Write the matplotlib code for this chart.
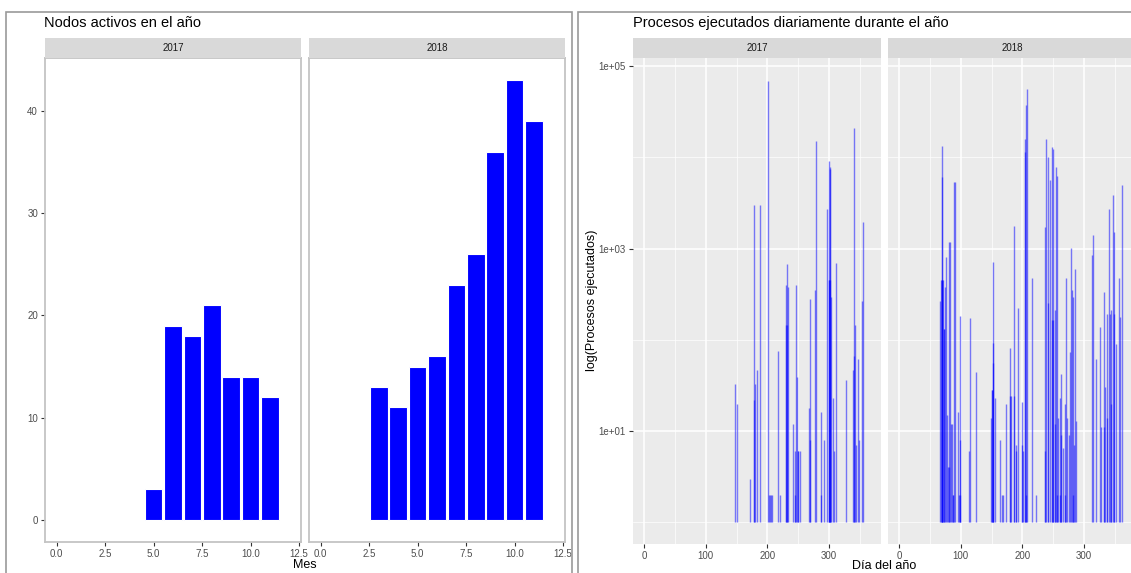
import matplotlib
matplotlib.use("Agg")
import matplotlib.pyplot as plt
from matplotlib.patches import Rectangle
from matplotlib.ticker import FixedLocator, FuncFormatter, NullFormatter

plt.rcParams['font.family'] = ['Liberation Sans', 'DejaVu Sans']

# nodos activos por mes
meses_2017 = [5, 6, 7, 8, 9, 10, 11]
nodos_2017 = [3, 19, 18, 21, 14, 14, 12]
meses_2018 = [3, 4, 5, 6, 7, 8, 9, 10, 11]
nodos_2018 = [13, 11, 15, 16, 23, 26, 36, 43, 39]

# procesos ejecutados por dia (varias entradas por dia se superponen)
dias_2017 = [148, 150, 171, 178, 178, 179, 183, 188, 201, 202, 204, 205, 208,
             217, 220, 230, 230, 231, 232, 234, 242, 244, 244, 247, 248, 249,
             250, 252, 267, 269, 269, 277, 279, 286, 286, 292, 297, 299, 300,
             300, 301, 301, 302, 303, 306, 308, 311, 327, 338, 340, 340, 342,
             343, 346, 348, 353, 355]
procesos_2017 = [33, 20, 3, 3000, 22, 33, 47, 3000, 69000, 2, 2, 2, 2,
                 76, 2, 400, 145, 145, 680, 380, 12, 2, 6, 400, 39, 6,
                 6, 6, 18, 280, 8, 350, 15000, 16, 2, 8, 2700, 450, 9100,
                 450, 7900, 450, 7500, 295, 23, 6, 690, 36, 47, 21000, 67, 147,
                 7, 62, 8, 264, 1940]

dias_2018 = [67, 68, 69, 69, 70, 70, 71, 72, 73, 75, 76, 77, 80, 81, 81, 83,
             84, 85, 87, 88, 89, 91, 96, 97, 98, 99, 99, 114, 115, 124, 149,
             150, 151, 152, 152, 153, 156, 163, 166, 169, 174, 179, 180, 181,
             186, 187, 189, 190, 193, 199, 199, 201, 204, 204, 205, 206, 207,
             216, 222, 237, 237, 238, 242, 242, 244, 248, 248, 250, 250, 252,
             252, 255, 256, 256, 258, 260, 260, 263, 263, 266, 269, 269, 270,
             272, 276, 277, 279, 281, 282, 282, 284, 285, 287, 313, 314, 319,
             326, 328, 332, 332, 334, 337, 337, 341, 342, 344, 344, 347, 349,
             349, 352, 356, 358, 361]
procesos_2018 = [264, 450, 13400, 450, 6100, 450, 450, 132, 132, 380, 800, 15,
                 4, 4, 1170, 1170, 12, 12, 2, 2, 5300, 5300, 16, 2, 2, 180, 8,
                 6, 173, 44, 14, 28, 28, 720, 55, 92, 23, 8, 2, 2, 20, 82, 24,
                 24, 24, 1770, 6, 7, 224, 21, 7, 6, 16000, 11500, 2, 37500,
                 56000, 470, 2, 1730, 6, 16000, 10000, 250, 5650, 12900, 164,
                 12300, 164, 210, 12, 7740, 6300, 2, 14, 23, 2, 42, 9, 6.5, 20,
                 2, 480, 14, 9, 73, 1020, 350, 295, 2, 7, 600, 13, 850, 1400,
                 61, 138, 11, 330, 11, 30, 190, 14, 2700, 190, 210, 20, 3900,
                 1500, 190, 91, 480, 178, 5000]

W, H = 1131, 573
fig = plt.figure(figsize=(W / 100, H / 100), dpi=100)


def caja(x0, y0, x1, y1):
    return [x0 / W, 1 - y1 / H, (x1 - x0) / W, (y1 - y0) / H]


def tira(x0, x1, texto):
    s = fig.add_axes(caja(x0, 38, x1, 58))
    s.set_facecolor('#D9D9D9')
    s.set_xticks([])
    s.set_yticks([])
    for sp in s.spines.values():
        sp.set_visible(False)
    s.text(0.5, 0.5, texto, ha='center', va='center', fontsize=7,
           color='#1A1A1A', transform=s.transAxes)


# marcos de cada grafico
for x0, x1 in [(6, 572), (578, 1140)]:
    fig.patches.append(Rectangle((x0 / W, 1 - 580 / H), (x1 - x0) / W,
                                 (580 - 12) / H, transform=fig.transFigure,
                                 fill=False, edgecolor='#9A9A9A', lw=1.2))

# ---- Nodos activos en el año ----
paneles_izq = [(45, 301, '2017', meses_2017, nodos_2017),
               (309, 565, '2018', meses_2018, nodos_2018)]
for i, (x0, x1, anio, meses, nodos) in enumerate(paneles_izq):
    ax = fig.add_axes(caja(x0, 58, x1, 542))
    ax.bar(meses, nodos, width=0.9, color='#0000FF', edgecolor='white', lw=0.8)
    ax.set_xlim(-0.6, 12.6)
    ax.set_ylim(-2.15, 45.15)
    ax.set_xticks([0, 2.5, 5, 7.5, 10, 12.5])
    ax.set_xticklabels(['0.0', '2.5', '5.0', '7.5', '10.0', '12.5'])
    ax.set_yticks([0, 10, 20, 30, 40])
    for sp in ax.spines.values():
        sp.set_color('#C4C4C4')
        sp.set_linewidth(1.3)
    ax.tick_params(length=3, width=0.8, color='#333333', labelsize=7,
                   labelcolor='#4D4D4D', pad=2)
    if i == 1:
        ax.tick_params(axis='y', left=False, labelleft=False)
    tira(x0, x1, anio)

fig.text(44 / W, 1 - 23 / H, 'Nodos activos en el año', fontsize=10.5,
         va='center', ha='left')
fig.text(305 / W, 1 - 565 / H, 'Mes', fontsize=9, ha='center', va='center')

# ---- Procesos ejecutados diariamente ----
paneles_der = [(633, 881, '2017', dias_2017, procesos_2017),
               (888, 1136, '2018', dias_2018, procesos_2018)]
for i, (x0, x1, anio, dias, procesos) in enumerate(paneles_der):
    ax = fig.add_axes(caja(x0, 58, x1, 544))
    ax.set_facecolor('#EBEBEB')
    ax.set_yscale('log')
    ax.vlines(dias, 1, procesos, colors='#0000FF', alpha=0.5, lw=1.0)
    ax.set_xlim(-18, 384)
    ax.set_ylim(10 ** -0.238, 10 ** 5.088)
    ax.set_xticks([0, 100, 200, 300])
    ax.xaxis.set_minor_locator(FixedLocator([50, 150, 250, 350]))
    ax.yaxis.set_major_locator(FixedLocator([1e1, 1e3, 1e5]))
    ax.yaxis.set_minor_locator(FixedLocator([1e0, 1e2, 1e4]))
    ax.yaxis.set_major_formatter(FuncFormatter(lambda v, p: f'{v:.0e}'))
    ax.yaxis.set_minor_formatter(NullFormatter())
    ax.grid(which='major', color='white', lw=1.1)
    ax.grid(which='minor', color='white', lw=0.5)
    ax.set_axisbelow(True)
    for sp in ax.spines.values():
        sp.set_visible(False)
    ax.tick_params(which='major', length=3, width=0.8, color='#333333',
                   labelsize=7, labelcolor='#4D4D4D', pad=2)
    ax.tick_params(which='minor', length=0)
    if i == 1:
        ax.tick_params(axis='y', which='both', left=False, labelleft=False)
    tira(x0, x1, anio)

fig.text(633 / W, 1 - 23 / H, 'Procesos ejecutados diariamente durante el año',
         fontsize=10.5, va='center', ha='left')
fig.text(884 / W, 1 - 566 / H, 'Día del año', fontsize=9, ha='center',
         va='center')
fig.text(592 / W, 1 - 300 / H, 'log(Procesos ejecutados)', fontsize=9,
         rotation=90, ha='center', va='center')

fig.savefig('out.png', dpi=100)
